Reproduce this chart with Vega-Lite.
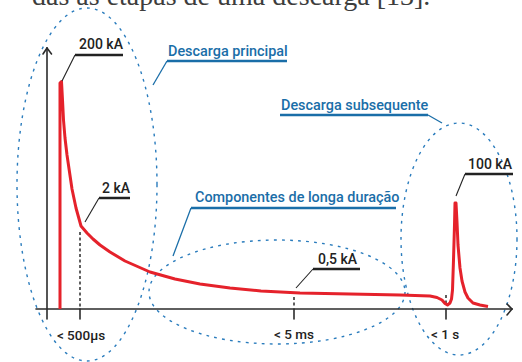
{
  "$schema": "https://vega.github.io/schema/vega-lite/v6.json",
  "width": 522,
  "height": 362,
  "padding": 0,
  "autosize": {"type": "none"},
  "background": "white",
  "config": {"view": {"stroke": null}},
  "encoding": {
    "x": {"field": "x", "type": "quantitative", "scale": {"domain": [0, 522], "nice": false, "zero": false}, "axis": null},
    "y": {"field": "y", "type": "quantitative", "scale": {"domain": [0, 362], "nice": false, "zero": false}, "axis": null}
  },
  "layer": [
    {
      "data": {"values": [{"x": 32, "y": 357, "t": "das as etapas de uma descarga [13]."}]},
      "mark": {"type": "text", "font": "Liberation Serif", "fontSize": 28, "align": "left", "baseline": "alphabetic", "color": "#3d3d3d"},
      "encoding": {"text": {"field": "t"}}
    },
    {
      "data": {"values": [{"x": 87, "y": 177.5}]},
      "mark": {"type": "point", "filled": false, "opacity": 1, "size": 124609, "stroke": "#2a7cbd", "strokeWidth": 1.4, "strokeDash": [2.8, 5.2],
        "shape": "M 0.3966,0 C 0.3966,0.5523 0.219,1 0,1 C -0.219,1 -0.3966,0.5523 -0.3966,0 C -0.3966,-0.5523 -0.219,-1 0,-1 C 0.219,-1 0.3966,-0.5523 0.3966,0 Z"}
    },
    {
      "data": {"values": [{"x": 277, "y": 70}]},
      "mark": {"type": "point", "filled": false, "opacity": 1, "size": 65536, "stroke": "#2a7cbd", "strokeWidth": 1.4, "strokeDash": [2.8, 5.2],
        "shape": "M 1,0 C 1,0.2243 0.5523,0.406 0,0.406 C -0.5523,0.406 -1,0.2243 -1,0 C -1,-0.2243 -0.5523,-0.406 0,-0.406 C 0.5523,-0.406 1,-0.2243 1,0 Z"}
    },
    {
      "data": {"values": [{"x": 459, "y": 123}]},
      "mark": {"type": "point", "filled": false, "opacity": 1, "size": 53824, "stroke": "#2a7cbd", "strokeWidth": 1.4, "strokeDash": [2.8, 5.2],
        "shape": "M 0.5,0 C 0.5,0.5523 0.276,1 0,1 C -0.276,1 -0.5,0.5523 -0.5,0 C -0.5,-0.5523 -0.276,-1 0,-1 C 0.276,-1 0.5,-0.5523 0.5,0 Z"}
    },
    {
      "data": {"values": [
        {"x": 47, "y": 43, "x2": 47, "y2": 314},
        {"x": 43, "y": 308, "x2": 47, "y2": 314},
        {"x": 47, "y": 314, "x2": 51.5, "y2": 308},
        {"x": 36, "y": 53, "x2": 512, "y2": 53},
        {"x": 507, "y": 58, "x2": 512, "y2": 53},
        {"x": 512, "y": 53, "x2": 507, "y2": 47},
        {"x": 80, "y": 53, "x2": 80, "y2": 43},
        {"x": 294, "y": 53, "x2": 294, "y2": 43},
        {"x": 446, "y": 53, "x2": 446, "y2": 43}
      ]},
      "mark": {"type": "rule", "color": "#2b2b2b", "strokeWidth": 1.6, "strokeCap": "round"},
      "encoding": {"x2": {"field": "x2"}, "y2": {"field": "y2"}}
    },
    {
      "data": {"values": [
        {"x": 80, "y": 130, "x2": 80, "y2": 54},
        {"x": 294, "y": 65, "x2": 294, "y2": 55},
        {"x": 446, "y": 67, "x2": 446, "y2": 59}
      ]},
      "mark": {"type": "rule", "color": "#2b2b2b", "strokeWidth": 1.5, "strokeDash": [3, 2.5]},
      "encoding": {"x2": {"field": "x2"}, "y2": {"field": "y2"}}
    },
    {
      "data": {"values": [
        {"k": 1, "x": 60, "y": 53}, {"k": 2, "x": 60, "y": 279}, {"k": 3, "x": 61.5, "y": 280.5},
        {"k": 4, "x": 62.5, "y": 262}, {"k": 5, "x": 63.5, "y": 242}, {"k": 6, "x": 65, "y": 224},
        {"k": 7, "x": 67, "y": 207}, {"k": 8, "x": 69.5, "y": 190}, {"k": 9, "x": 72, "y": 173},
        {"k": 10, "x": 76, "y": 154}, {"k": 11, "x": 81, "y": 136}, {"k": 12, "x": 87, "y": 129},
        {"k": 13, "x": 93, "y": 123}, {"k": 14, "x": 100, "y": 117}, {"k": 15, "x": 110, "y": 110},
        {"k": 16, "x": 125, "y": 101}, {"k": 17, "x": 150, "y": 90}, {"k": 18, "x": 175, "y": 83},
        {"k": 19, "x": 200, "y": 78}, {"k": 20, "x": 230, "y": 74}, {"k": 21, "x": 261, "y": 71},
        {"k": 22, "x": 300, "y": 69}, {"k": 23, "x": 350, "y": 68}, {"k": 24, "x": 400, "y": 67},
        {"k": 25, "x": 430, "y": 66}, {"k": 26, "x": 437, "y": 64.5}, {"k": 27, "x": 442, "y": 62},
        {"k": 28, "x": 445, "y": 58.5}, {"k": 29, "x": 447.5, "y": 57}, {"k": 30, "x": 450, "y": 59},
        {"k": 31, "x": 451.5, "y": 63}, {"k": 32, "x": 452.5, "y": 72}, {"k": 33, "x": 453.5, "y": 102},
        {"k": 34, "x": 454.5, "y": 137}, {"k": 35, "x": 455, "y": 159}, {"k": 36, "x": 456, "y": 159},
        {"k": 37, "x": 457, "y": 140}, {"k": 38, "x": 458, "y": 117}, {"k": 39, "x": 460, "y": 94},
        {"k": 40, "x": 462, "y": 81}, {"k": 41, "x": 465, "y": 70}, {"k": 42, "x": 468, "y": 64},
        {"k": 43, "x": 473, "y": 59}, {"k": 44, "x": 480, "y": 57}, {"k": 45, "x": 488, "y": 55.5}
      ]},
      "mark": {"type": "line", "color": "#e5222b", "strokeWidth": 3, "strokeJoin": "round"},
      "encoding": {"order": {"field": "k", "type": "quantitative"}}
    },
    {
      "data": {"values": [
        {"x": 75, "y": 307, "x2": 123, "y2": 307},
        {"x": 99, "y": 164, "x2": 130, "y2": 164},
        {"x": 313, "y": 93, "x2": 360, "y2": 93},
        {"x": 465, "y": 188, "x2": 513, "y2": 188}
      ]},
      "mark": {"type": "rule", "color": "#222222", "strokeWidth": 2.5},
      "encoding": {"x2": {"field": "x2"}, "y2": {"field": "y2"}}
    },
    {
      "data": {"values": [
        {"x": 75, "y": 307, "x2": 62, "y2": 281},
        {"x": 99, "y": 164, "x2": 85, "y2": 140},
        {"x": 313, "y": 93, "x2": 296, "y2": 74},
        {"x": 465, "y": 188, "x2": 456, "y2": 166}
      ]},
      "mark": {"type": "rule", "color": "#222222", "strokeWidth": 1.1},
      "encoding": {"x2": {"field": "x2"}, "y2": {"field": "y2"}}
    },
    {
      "data": {"values": [
        {"x": 167, "y": 301, "x2": 287, "y2": 301},
        {"x": 280, "y": 247, "x2": 428, "y2": 247},
        {"x": 191, "y": 154, "x2": 396, "y2": 154}
      ]},
      "mark": {"type": "rule", "color": "#1a6ea8", "strokeWidth": 2.5},
      "encoding": {"x2": {"field": "x2"}, "y2": {"field": "y2"}}
    },
    {
      "data": {"values": [
        {"x": 167, "y": 301, "x2": 153, "y2": 277},
        {"x": 428, "y": 247, "x2": 442, "y2": 239},
        {"x": 191, "y": 154, "x2": 173, "y2": 106}
      ]},
      "mark": {"type": "rule", "color": "#1a6ea8", "strokeWidth": 1.3},
      "encoding": {"x2": {"field": "x2"}, "y2": {"field": "y2"}}
    },
    {
      "data": {"values": [
        {"x": 79, "y": 313, "t": "200 kA"},
        {"x": 102, "y": 169, "t": "2 kA"},
        {"x": 318, "y": 98, "t": "0,5 kA"},
        {"x": 468, "y": 193, "t": "100 kA"}
      ]},
      "mark": {"type": "text", "font": "Roboto", "fontWeight": 500, "fontSize": 14, "align": "left", "baseline": "alphabetic", "color": "#222222"},
      "encoding": {"text": {"field": "t"}}
    },
    {
      "data": {"values": [
        {"x": 168, "y": 306, "t": "Descarga principal"},
        {"x": 281, "y": 252, "t": "Descarga subsequente"},
        {"x": 195, "y": 160, "t": "Componentes de longa duração"}
      ]},
      "mark": {"type": "text", "font": "Roboto", "fontWeight": 500, "fontSize": 14.4, "align": "left", "baseline": "alphabetic", "color": "#1a6ea8"},
      "encoding": {"text": {"field": "t"}}
    },
    {
      "data": {"values": [
        {"x": 81, "y": 22, "t": "< 500μs"},
        {"x": 294, "y": 23, "t": "< 5 ms"},
        {"x": 445, "y": 23, "t": "< 1 s"}
      ]},
      "mark": {"type": "text", "font": "Roboto", "fontWeight": 500, "fontSize": 13.5, "align": "center", "baseline": "alphabetic", "color": "#222222"},
      "encoding": {"text": {"field": "t"}}
    }
  ]
}
